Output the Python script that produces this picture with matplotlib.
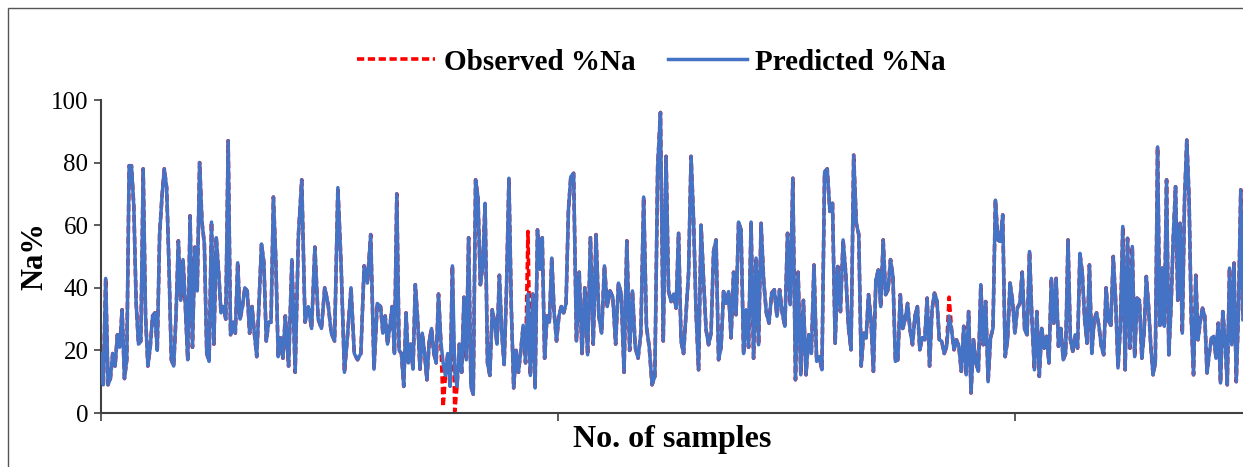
import numpy as np
import matplotlib.pyplot as plt
from matplotlib.patches import Rectangle

# predicted %Na, in 12 consecutive stretches of samples
seg_bounds = [0, 39, 80.7, 122.4, 164, 205.7, 247.4, 289, 330.7, 372.4, 414, 455.7, 500]
pred_segments = [
    [19, 9, 43, 9, 11, 19, 15, 25, 21, 33, 11, 17, 79, 79, 66, 35, 22, 23, 78, 31, 15, 21, 31, 32, 20,
     57, 69, 78, 72, 47, 17, 15, 31, 55, 36, 49, 34, 17],
    [63, 21, 53, 39, 80, 61, 54, 19, 16.5, 61, 22, 56, 45, 32, 34, 30, 87, 25, 29, 25.5, 48, 30, 34, 40,
     39, 25.5, 34, 25.5, 18, 36, 54, 48, 23, 29, 29, 69, 49, 18, 24, 17.5],
    [31, 15, 49, 13, 57, 74.5, 29, 34, 27, 53, 30, 27, 40, 35, 25.5, 23, 72, 47, 13, 25.5, 40, 19, 17, 19,
     47, 41.5, 57, 14, 35],
    [34, 25.5, 31, 22, 27.6, 34, 19, 70, 20, 19, 8.5, 32, 16, 22, 14, 41, 30, 14, 25.5, 19, 10.6, 23, 27,
     19, 16, 38, 23, 16, 12, 19, 8.5, 47, 13, 8.5, 22, 13, 37, 17, 56, 8.5, 6],
    [74.5, 69, 41, 47, 67, 16, 12, 33, 29, 22, 44, 25.5, 15.5, 40, 75, 34, 8, 20, 13, 20, 28, 16, 38, 12,
     38, 8, 58.5, 46, 56, 17.5, 31, 29, 49.5, 32, 23, 31, 34, 32, 35, 65],
    [75.5, 76.6, 23, 45, 19, 40, 18.6, 56, 22, 57, 31, 25.5, 47, 34, 39, 37, 22, 41.5, 38, 13, 55, 20, 39,
     21, 17.5, 25.5, 69, 27.6, 21, 9, 11.7, 78.7, 96, 23],
    [82, 39, 35.6, 38, 33.5, 57.4, 23, 19, 32, 44.7, 82, 61.7, 32, 13.8, 60, 42.5, 26.6, 21.8, 25.5, 51.6,
     55.3, 17, 21, 38.8, 35, 38.8, 24, 45, 31.4, 61, 58.5, 19, 33, 21, 61, 17.5, 49.5, 21.8],
    [60.6, 42, 32, 28.7, 38.3, 39.4, 30.9, 39.4, 32, 27.7, 57.4, 34.6, 75, 10.6, 45, 12.2, 36, 12.2, 25,
     19, 47.3, 16.5, 18, 13.8, 77, 78, 64.4, 67, 22.3, 46.8, 32.4, 55.3, 44.7, 27.7, 20.2, 82.4],
    [60.6, 57, 15, 25.5, 24, 37.8, 29.8, 13.3, 42.5, 45.7, 34, 55.3, 37.8, 39.4, 49, 43.6, 16.5, 17, 37.8,
     27, 29.8, 35, 26.6, 21.8, 30.9, 34, 20.2, 24, 23.4, 36.7, 15, 33, 38.3, 36, 23.4, 22.9, 19, 21.3, 31],
    [26.6, 20.2, 23.4, 21.3, 13.3, 27.7, 12.2, 32.4, 6.4, 23.4, 16, 13.3, 41, 21.8, 35.6, 10, 24, 27, 68,
     55.3, 54.8, 63.3, 18, 23.4, 41.5, 36, 25.5, 33.5, 35, 45, 26.6, 25, 51.6, 29.8, 13.8, 32.4, 11.7, 27,
     20.7],
    [24.5, 16, 43, 28.7, 43, 21.3, 27, 17, 19, 55.3, 23.4, 19.7, 25, 20.7, 51, 44.7, 29.8, 22.3, 47.3, 19,
     29.8, 32, 27.7, 21.3, 18.6, 40, 29.3, 28, 50, 36, 14.4, 27.7, 59.6, 13.8, 55.8, 20.7, 53.2, 18, 36.7,
     36],
    [17.5, 25.5, 43.6, 34, 21.3, 12.2, 16, 85, 28, 46.3, 27.7, 74.5, 18.6, 34, 56.4, 72.3, 36, 60.6, 25.5,
     68, 87.2, 69, 29.8, 12.2, 44, 23.4, 29.3, 33.5, 30.9, 12.8, 19, 24, 24.5, 17.5, 28.7, 9.6, 32.4, 23.4,
     9, 46.3, 21.8, 47.9, 10, 33, 71.3, 29.8],
]
# (segment, position in segment, observed value) where observed differs from predicted
observed_changes = [(4, 27, 2.0), (4, 32, 0.5), (5, 22, 58.0), (9, 38, 37.0)]

x_parts = []
for k, seg in enumerate(pred_segments):
    last = k == len(pred_segments) - 1
    x_parts.append(np.linspace(seg_bounds[k], seg_bounds[k + 1], len(seg), endpoint=last))
samples = np.concatenate(x_parts)
predicted = np.concatenate([np.array(s, float) for s in pred_segments])
observed = predicted.copy()
offsets = np.cumsum([0] + [len(s) for s in pred_segments])
for seg_no, pos, val in observed_changes:
    observed[offsets[seg_no - 1] + pos] = val

plt.rcParams['font.family'] = ['Liberation Serif', 'DejaVu Serif']

fig = plt.figure(figsize=(12.43, 4.67), dpi=100)
ax = fig.add_axes([101 / 1243, 1 - 413 / 467, 1 - 101 / 1243, 313 / 467])

ax.plot(samples, observed, color='#FF0000', lw=2.6, linestyle=(0, (2, 1)), label='Observed %Na', zorder=2)
ax.plot(samples, predicted, color='#4472C4', lw=2.5, label='Predicted %Na', zorder=3)

ax.set_xlim(0, 500)
ax.set_ylim(0, 100)
ax.set_yticks([0, 20, 40, 60, 80, 100])
ax.set_xticks([0, 200, 400])
ax.set_xticklabels([])
ax.tick_params(axis='y', labelsize=18, direction='out', length=5, width=1.2, color='#404040', pad=4)
ax.tick_params(axis='x', direction='out', length=6, width=1.2, color='#404040')
for side in ['top', 'right']:
    ax.spines[side].set_visible(False)
for side in ['left', 'bottom']:
    ax.spines[side].set_color('#404040')
    ax.spines[side].set_linewidth(1.5)

ax.set_ylabel('Na%', fontsize=22, fontweight='bold', labelpad=1)
ax.set_xlabel('No. of samples', fontsize=23, fontweight='bold', labelpad=-1)

fig.legend(loc='center', bbox_to_anchor=(0.524, 0.867), ncol=2, frameon=False,
           prop={'size': 21, 'weight': 'bold'}, handlelength=2.7, handletextpad=0.3,
           columnspacing=1.1)

fig.patches.append(Rectangle((8 / 1243, -0.1), 1.2, (467 - 8) / 467 + 0.1, fill=False,
                             edgecolor='#555555', lw=1, transform=fig.transFigure, figure=fig))

fig.savefig('out.png', dpi=100)
